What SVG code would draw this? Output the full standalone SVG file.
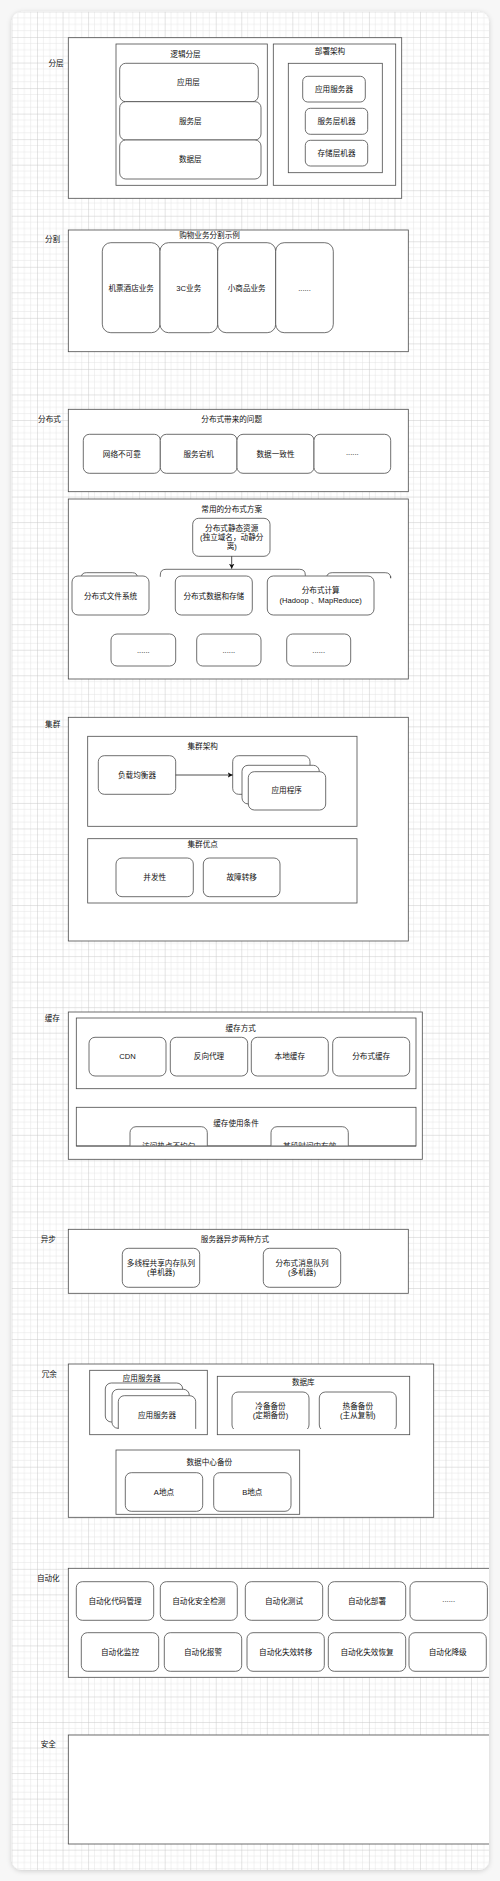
<svg xmlns="http://www.w3.org/2000/svg" width="500" height="1881" viewBox="0 0 500 1881">
<style>
.t{font-family:"Liberation Sans","Noto Sans CJK SC",sans-serif;font-size:7.6px;fill:#111;text-anchor:middle;dominant-baseline:central}
.c{fill:#fff;stroke:#4a4a4a;stroke-width:0.8}
.n{fill:#fff;stroke:#4a4a4a;stroke-width:0.8}
.e{fill:none;stroke:#4a4a4a;stroke-width:0.8}
.k{fill:none;stroke:#222;stroke-width:0.8}
</style>
<defs>
<pattern id="grid" x="11.5" y="11.5" width="25.53" height="25.53" patternUnits="userSpaceOnUse">
<path d="M6.38 0V25.53M12.77 0V25.53M19.15 0V25.53M0 6.38H25.53M0 12.77H25.53M0 19.15H25.53" stroke="#e4e4e4" stroke-width="0.5" fill="none"/>
<path d="M0 0V25.53M0 0H25.53" stroke="#c9c9c9" stroke-width="1" fill="none"/>
</pattern>
<clipPath id="frameClip"><rect x="11.7" y="11.7" width="477.3" height="1858.3" rx="10"/></clipPath>
<clipPath id="clipCache"><rect x="0" y="1100" width="500" height="45.7"/></clipPath>
<clipPath id="clipRed"><rect x="0" y="1370" width="500" height="59"/></clipPath>
<filter id="sh" x="-5%" y="-2%" width="110%" height="104%">
<feDropShadow dx="0" dy="1" stdDeviation="2.5" flood-color="#000" flood-opacity="0.18"/>
</filter>
<marker id="arr" markerUnits="userSpaceOnUse" markerWidth="6" markerHeight="6" refX="5" refY="3" orient="auto">
<path d="M0 0.3L5 3L0 5.7L1.2 3Z" fill="#111"/>
</marker>
</defs>
<rect x="0" y="0" width="500" height="1881" fill="#f7f7f7"/>
<rect x="11.7" y="11.7" width="477.3" height="1858.3" rx="10" fill="#fff" filter="url(#sh)"/>
<rect x="11.7" y="11.7" width="477.3" height="1858.3" rx="10" fill="url(#grid)"/>
<g clip-path="url(#frameClip)">

<!-- 分层 -->
<g id="layer">
<text class="t" x="56" y="63">分层</text>
<rect class="c" x="68.3" y="37.7" width="333.4" height="160.6"/>
<g id="logic-layer">
<rect class="c" x="116" y="44" width="151.3" height="141.3"/>
<text class="t" x="185.5" y="54">逻辑分层</text>
</g>
<g id="app-layer"><rect class="n" x="119.7" y="63.3" width="138.6" height="38.4" rx="6"/><text class="t" x="188.5" y="82.5">应用层</text></g>
<g id="svc-layer"><rect class="n" x="119.7" y="101.7" width="141.3" height="38.3" rx="6"/><text class="t" x="190.3" y="121">服务层</text></g>
<g id="data-layer"><rect class="n" x="119.7" y="140" width="141.3" height="39" rx="6"/><text class="t" x="190.3" y="159.5">数据层</text></g>
<g id="deploy">
<rect class="c" x="273.3" y="44" width="122.4" height="141.3"/>
<text class="t" x="330" y="51">部署架构</text>
<rect class="c" x="288.3" y="63.3" width="94" height="109.4"/>
</g>
<g id="app-server"><rect class="n" x="302.7" y="76.3" width="62.6" height="25.7" rx="5"/><text class="t" x="334" y="89.3">应用服务器</text></g>
<g id="svc-machine"><rect class="n" x="305.3" y="108.3" width="62.4" height="26" rx="5"/><text class="t" x="336.5" y="121.3">服务层机器</text></g>
<g id="store-machine"><rect class="n" x="305.3" y="140.3" width="62.4" height="25.7" rx="5"/><text class="t" x="336.5" y="153.2">存储层机器</text></g>
</g>

<!-- 分割 -->
<g id="split">
<text class="t" x="52.5" y="239.3">分割</text>
<rect class="c" x="68.3" y="230" width="340" height="121.7"/>
<text class="t" x="209.5" y="235.7">购物业务分割示例</text>
<g id="biz-travel"><rect class="n" x="102.3" y="242.7" width="57.7" height="90" rx="8.5"/><text class="t" x="131.2" y="288">机票酒店业务</text></g>
<g id="biz-3c"><rect class="n" x="160" y="242.7" width="57.7" height="90" rx="8.5"/><text class="t" x="188.8" y="288">3C业务</text></g>
<g id="biz-small"><rect class="n" x="217.7" y="242.7" width="58" height="90" rx="8.5"/><text class="t" x="246.7" y="288">小商品业务</text></g>
<g id="biz-more"><rect class="n" x="275.7" y="242.7" width="57.6" height="90" rx="8.5"/><text class="t" x="304.5" y="288">......</text></g>
</g>

<!-- 分布式 -->
<g id="distributed">
<text class="t" x="49.5" y="419.3">分布式</text>
<rect class="c" x="68.3" y="409.3" width="340" height="82.4"/>
<text class="t" x="231.7" y="419">分布式带来的问题</text>
<g id="p-net"><rect class="n" x="83.3" y="434.3" width="77" height="39" rx="6"/><text class="t" x="121.8" y="454">网络不可靠</text></g>
<g id="p-down"><rect class="n" x="160.3" y="434.3" width="76.7" height="39" rx="6"/><text class="t" x="198.7" y="454">服务宕机</text></g>
<g id="p-cons"><rect class="n" x="237" y="434.3" width="77" height="39" rx="6"/><text class="t" x="275.5" y="454">数据一致性</text></g>
<g id="p-more"><rect class="n" x="314" y="434.3" width="76.7" height="39" rx="6"/><text class="t" x="352.3" y="452">......</text></g>
</g>

<g id="dist-solutions">
<rect class="c" x="68.3" y="499" width="340" height="180"/>
<text class="t" x="231.7" y="509">常用的分布式方案</text>
<g id="static-res"><rect class="n" x="192.7" y="518.3" width="77.3" height="38" rx="6"/>
<text class="t" x="231.7" y="528.3">分布式静态资源</text>
<text class="t" x="231.7" y="537.5">(独立域名，动静分</text>
<text class="t" x="231.7" y="546.7">离)</text></g>
<path class="e" d="M81.3 578V577.7Q81.3 572.7 86.3 572.7H132.3Q137.3 572.7 137.3 577.7V578"/>
<path class="e" d="M160.3 576.8V575Q160.3 569.3 166 569.3H299.6Q305.3 569.3 305.3 575V575.8"/>
<path class="e" d="M326.7 578V578Q326.7 572.7 332.2 572.7H385.2Q390.7 572.7 390.7 578.2V576"/>
<g id="dfs"><rect class="n" x="72" y="576" width="77" height="39" rx="6"/><text class="t" x="110.5" y="596">分布式文件系统</text></g>
<g id="ddb"><rect class="n" x="175.3" y="576" width="77" height="39" rx="6"/><text class="t" x="213.8" y="596">分布式数据和存储</text></g>
<g id="dcomp"><rect class="n" x="267.3" y="576" width="106.7" height="39" rx="6"/>
<text class="t" x="320.7" y="590.7">分布式计算</text>
<text class="t" x="320.7" y="600">(Hadoop 、MapReduce)</text></g>
<g id="s-more1"><rect class="n" x="111" y="634" width="64.7" height="32" rx="6"/><text class="t" x="143.3" y="650">......</text></g>
<g id="s-more2"><rect class="n" x="196.7" y="634" width="64.3" height="32" rx="6"/><text class="t" x="228.8" y="650">......</text></g>
<g id="s-more3"><rect class="n" x="286.7" y="634" width="64" height="32" rx="6"/><text class="t" x="318.7" y="650">......</text></g>
</g>

<!-- 集群 -->
<g id="cluster">
<text class="t" x="52.7" y="724">集群</text>
<rect class="c" x="68.3" y="717.3" width="340" height="223.7"/>
<g id="cluster-arch">
<rect class="c" x="87.7" y="736.3" width="269.3" height="90"/>
<text class="t" x="202.7" y="746">集群架构</text>
</g>
<g id="lb"><rect class="n" x="98.3" y="755.7" width="77.4" height="38.6" rx="6"/><text class="t" x="137" y="775">负载均衡器</text></g>
<g id="apps">
<rect class="n" x="232.7" y="755.7" width="77.3" height="38.6" rx="6"/>
<rect class="n" x="242" y="765.3" width="77.3" height="38.6" rx="6"/>
<rect class="n" x="248.3" y="771.7" width="77.4" height="38.3" rx="6"/>
<text class="t" x="286.7" y="790.7">应用程序</text>
</g>
<g id="cluster-adv">
<rect class="c" x="87.7" y="838.7" width="269.3" height="64.3"/>
<text class="t" x="202.7" y="844.7">集群优点</text>
</g>
<g id="concurrency"><rect class="n" x="116" y="858" width="77.3" height="38.7" rx="6"/><text class="t" x="154.7" y="877.3">并发性</text></g>
<g id="failover"><rect class="n" x="203.3" y="858" width="76.7" height="38.7" rx="6"/><text class="t" x="241.7" y="877.3">故障转移</text></g>
</g>

<!-- 缓存 -->
<g id="cache">
<text class="t" x="52.3" y="1018.7">缓存</text>
<rect class="c" x="68.3" y="1012" width="354" height="147.3"/>
<g id="cache-ways">
<rect class="c" x="76.3" y="1018" width="339.7" height="70.7"/>
<text class="t" x="240.7" y="1028">缓存方式</text>
</g>
<g id="cdn"><rect class="n" x="89" y="1037.3" width="77" height="38.7" rx="6"/><text class="t" x="127.5" y="1056.7">CDN</text></g>
<g id="rproxy"><rect class="n" x="170.3" y="1037.3" width="77.4" height="38.7" rx="6"/><text class="t" x="209" y="1056.7">反向代理</text></g>
<g id="localcache"><rect class="n" x="251.3" y="1037.3" width="77" height="38.7" rx="6"/><text class="t" x="289.8" y="1056.7">本地缓存</text></g>
<g id="distcache"><rect class="n" x="332.7" y="1037.3" width="77" height="38.7" rx="6"/><text class="t" x="371.2" y="1056.7">分布式缓存</text></g>
<g id="cache-cond">
<rect class="c" x="76.3" y="1107.3" width="339.7" height="38.7"/>
<text class="t" x="236" y="1123.7">缓存使用条件</text>
<g clip-path="url(#clipCache)">
<rect class="n" x="130" y="1126.7" width="77.3" height="38.7" rx="6"/><text class="t" x="168.7" y="1146">访问热点不均匀</text>
<rect class="n" x="271" y="1126.7" width="77.3" height="38.7" rx="6"/><text class="t" x="309.7" y="1146">某段时间内有效</text>
</g>
<path class="e" d="M76.3 1146H416"/>
</g>
</g>

<!-- 异步 -->
<g id="async">
<text class="t" x="48.3" y="1239.3">异步</text>
<rect class="c" x="68.3" y="1229.3" width="340" height="64"/>
<text class="t" x="235" y="1239.3">服务器异步两种方式</text>
<g id="mq-local"><rect class="n" x="122.3" y="1248.3" width="77.4" height="39" rx="6"/>
<text class="t" x="161" y="1263.3">多线程共享内存队列</text><text class="t" x="161" y="1272.3">(单机器)</text></g>
<g id="mq-dist"><rect class="n" x="263.3" y="1248.3" width="77.4" height="39" rx="6"/>
<text class="t" x="302" y="1263.3">分布式消息队列</text><text class="t" x="302" y="1272.3">(多机器)</text></g>
</g>

<!-- 冗余 -->
<g id="redundancy">
<text class="t" x="49.3" y="1374">冗余</text>
<rect class="c" x="68.3" y="1364" width="365.4" height="153.3"/>
<g id="red-app">
<rect class="c" x="89.7" y="1370.3" width="117.6" height="64.4"/>
<text class="t" x="141.7" y="1378">应用服务器</text>
<g clip-path="url(#clipRed)">
<rect class="n" x="105.3" y="1383" width="77.4" height="39" rx="6"/>
<rect class="n" x="112" y="1389.3" width="77.3" height="39" rx="6"/>
<rect class="n" x="118.3" y="1395.7" width="77.4" height="39" rx="6"/>
</g>
<text class="t" x="157" y="1415">应用服务器</text>
</g>
<g id="red-db">
<rect class="c" x="217.3" y="1376.3" width="192.4" height="58.4"/>
<text class="t" x="303.3" y="1382.7">数据库</text>
<g clip-path="url(#clipRed)">
<rect class="n" x="232" y="1392" width="77" height="39" rx="6"/>
<rect class="n" x="319.3" y="1392" width="77" height="39" rx="6"/>
</g>
<text class="t" x="270.5" y="1406">冷备备份</text><text class="t" x="270.5" y="1415.3">(定期备份)</text>
<text class="t" x="357.8" y="1406">热备备份</text><text class="t" x="357.8" y="1415.3">(主从复制)</text>
</g>
<g id="red-dc">
<rect class="c" x="116" y="1450" width="183.7" height="64.3"/>
<text class="t" x="209.3" y="1462.7">数据中心备份</text>
</g>
<g id="site-a"><rect class="n" x="125.3" y="1472.7" width="77.4" height="38.6" rx="6"/><text class="t" x="164" y="1492">A地点</text></g>
<g id="site-b"><rect class="n" x="213.7" y="1472.7" width="77.3" height="38.6" rx="6"/><text class="t" x="252.3" y="1492">B地点</text></g>
</g>

<!-- 自动化 -->
<g id="automation">
<text class="t" x="48.3" y="1578.7">自动化</text>
<rect class="c" x="68.3" y="1568.3" width="500" height="109"/>
<g id="a1"><rect class="n" x="76.3" y="1581.7" width="77.4" height="38.6" rx="6"/><text class="t" x="115" y="1601">自动化代码管理</text></g>
<g id="a2"><rect class="n" x="160.3" y="1581.7" width="77" height="38.6" rx="6"/><text class="t" x="198.8" y="1601">自动化安全检测</text></g>
<g id="a3"><rect class="n" x="245.3" y="1581.7" width="77.4" height="38.6" rx="6"/><text class="t" x="284" y="1601">自动化测试</text></g>
<g id="a4"><rect class="n" x="328.3" y="1581.7" width="77.4" height="38.6" rx="6"/><text class="t" x="367" y="1601">自动化部署</text></g>
<g id="a5"><rect class="n" x="410" y="1581.7" width="77.4" height="38.6" rx="6"/><text class="t" x="448.7" y="1599">......</text></g>
<g id="b1"><rect class="n" x="81.3" y="1632.7" width="77.4" height="38.6" rx="6"/><text class="t" x="120" y="1652">自动化监控</text></g>
<g id="b2"><rect class="n" x="164.3" y="1632.7" width="77.4" height="38.6" rx="6"/><text class="t" x="203" y="1652">自动化报警</text></g>
<g id="b3"><rect class="n" x="247" y="1632.7" width="77.3" height="38.6" rx="6"/><text class="t" x="285.7" y="1652">自动化失效转移</text></g>
<g id="b4"><rect class="n" x="328.3" y="1632.7" width="77.4" height="38.6" rx="6"/><text class="t" x="367" y="1652">自动化失效恢复</text></g>
<g id="b5"><rect class="n" x="409" y="1632.7" width="77.3" height="38.6" rx="6"/><text class="t" x="447.7" y="1652">自动化降级</text></g>
</g>

<!-- 安全 -->
<g id="security">
<text class="t" x="48.3" y="1744.3">安全</text>
<rect class="c" x="68.3" y="1735" width="500" height="109"/>
</g>

<!-- connectors -->
<g id="connectors">
<path class="k" d="M231.7 556.3V568.7" marker-end="url(#arr)"/>
<path class="k" d="M175.7 775H232.7" marker-end="url(#arr)"/>
</g>
</g>
</svg>
